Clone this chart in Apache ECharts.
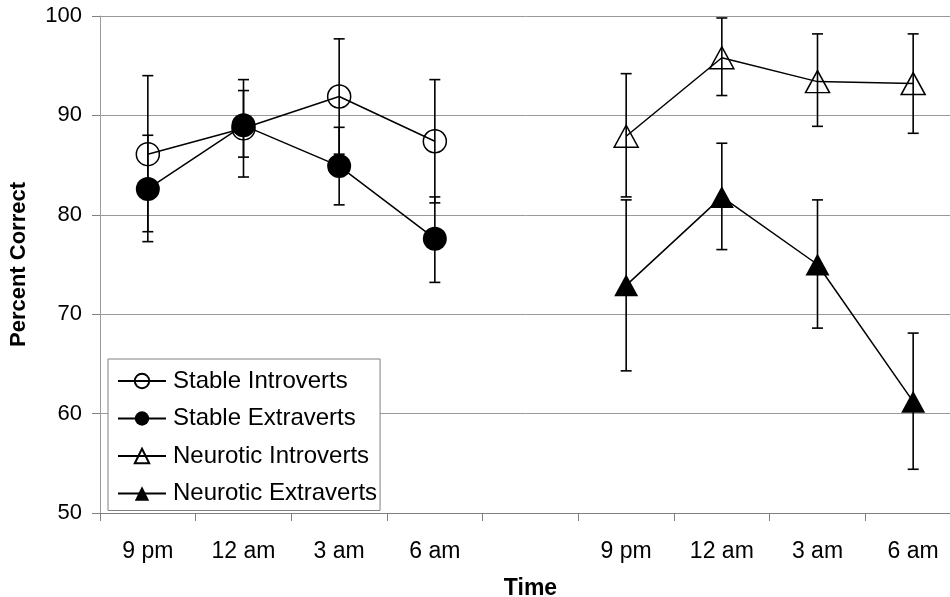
<!DOCTYPE html>
<html>
<head>
<meta charset="utf-8">
<script src="https://cdn.jsdelivr.net/npm/echarts@6/dist/echarts.min.js"></script>
<style>
  html, body { margin: 0; padding: 0; background: #fff; }
  #main { width: 950px; height: 597px; }
</style>
</head>
<body>
<div id="main"></div>
<script>
// categories (an empty slot separates the two groups)
const categories = ['9 pm', '12 am', '3 am', '6 am', '', '9 pm', '12 am', '3 am', '6 am']
const yTicks = [50, 60, 70, 80, 90, 100]

// stable groups sit on slots 0-3, neurotic groups on slots 5-8
const stableIntro = [86.1, 88.7, 91.9, 87.4]
const stableIntroLow = [78.3, 83.8, 86.1, 81.2]
const stableIntroHigh = [94.0, 93.6, 97.7, 93.6]

const stableExtra = [82.6, 89.0, 84.9, 77.6]
const stableExtraLow = [77.3, 85.8, 81.0, 73.2]
const stableExtraHigh = [88.0, 92.5, 88.8, 81.8]

const neuroIntro = [87.9, 95.8, 93.4, 93.2]
const neuroIntroLow = [81.8, 92.0, 88.9, 88.2]
const neuroIntroHigh = [94.2, 99.8, 98.2, 98.2]

const neuroExtra = [72.9, 81.8, 75.0, 61.2]
const neuroExtraLow = [64.3, 76.5, 68.6, 54.4]
const neuroExtraHigh = [81.5, 87.2, 81.5, 68.1]

const FONT = '"Liberation Sans", Arial, sans-serif'

// put 4 values on the 9 slots
function place (vals, start) {
  return categories.map((c, i) => (i >= start && i < start + vals.length) ? vals[i - start] : '-')
}
function bars (low, high, start) {
  return low.map((v, i) => [start + i, v, high[i]])
}

function errorBar (params, api) {
  const x = api.value(0)
  const lo = api.coord([x, api.value(1)])
  const hi = api.coord([x, api.value(2)])
  const w = 5.5
  const st = { stroke: '#000', lineWidth: 1.6 }
  return {
    type: 'group',
    children: [
      { type: 'line', shape: { x1: lo[0], y1: lo[1], x2: hi[0], y2: hi[1] }, style: st },
      { type: 'line', shape: { x1: lo[0] - w, y1: lo[1], x2: lo[0] + w, y2: lo[1] }, style: st },
      { type: 'line', shape: { x1: hi[0] - w, y1: hi[1], x2: hi[0] + w, y2: hi[1] }, style: st }
    ]
  }
}

function errSeries (data) {
  return {
    type: 'custom',
    renderItem: errorBar,
    data: data,
    encode: { x: 0, y: [1, 2] },
    z: 1,
    silent: true
  }
}

function lineSeries (name, data, symbol, size, filled) {
  return {
    name: name,
    type: 'line',
    data: data,
    symbol: symbol,
    symbolSize: size,
    showAllSymbol: true,
    connectNulls: false,
    z: 3,
    lineStyle: { color: '#000', width: 1.5 },
    itemStyle: filled
      ? { color: '#000', borderColor: '#000', borderWidth: 0 }
      : { color: 'rgba(0,0,0,0)', borderColor: '#000', borderWidth: 1.5 },
    emphasis: { disabled: true }
  }
}

const chart = echarts.init(document.getElementById('main'))
chart.setOption({
  animation: false,
  textStyle: { fontFamily: FONT, color: '#000' },
  // plot runs past the right edge of the picture, like the original
  grid: { left: 100, top: 16, width: 861, height: 497, outerBoundsMode: 'none', containLabel: false },
  legend: {
    data: ['Stable Introverts', 'Stable Extraverts', 'Neurotic Introverts', 'Neurotic Extraverts'],
    orient: 'vertical',
    left: 108,
    top: 359,
    padding: [10, 3, 5, 9],
    itemWidth: 48,
    itemHeight: 18,
    itemGap: 13.5,
    borderColor: '#808080',
    borderWidth: 1,
    backgroundColor: '#fff',
    selectedMode: false,
    textStyle: { fontFamily: FONT, fontSize: 24, color: '#000', padding: [0, 0, 0, 2] }
  },
  xAxis: {
    type: 'category',
    data: categories,
    boundaryGap: true,
    name: 'Time',
    nameLocation: 'middle',
    nameGap: 64,
    nameTextStyle: { fontFamily: FONT, fontSize: 23, fontWeight: 'bold', color: '#000' },
    axisLine: { lineStyle: { color: '#808080', width: 1 } },
    axisTick: { show: true, length: 8, inside: false, lineStyle: { color: '#808080' } },
    axisLabel: { interval: 0, margin: 27, fontSize: 23, color: '#000', fontFamily: FONT },
    splitLine: { show: false }
  },
  yAxis: {
    type: 'value',
    min: yTicks[0],
    max: yTicks[yTicks.length - 1],
    interval: 10,
    name: 'Percent Correct',
    nameLocation: 'middle',
    nameGap: 70,
    nameTextStyle: { fontFamily: FONT, fontSize: 22, fontWeight: 'bold', color: '#000' },
    axisLine: { show: true, lineStyle: { color: '#999', width: 1 } },
    axisTick: { show: true, length: 8, lineStyle: { color: '#808080' } },
    axisLabel: { margin: 18, fontSize: 22, color: '#000', fontFamily: FONT },
    splitLine: { show: true, lineStyle: { color: '#999', width: 1 } }
  },
  series: [
    errSeries(bars(stableIntroLow, stableIntroHigh, 0)),
    errSeries(bars(stableExtraLow, stableExtraHigh, 0)),
    errSeries(bars(neuroIntroLow, neuroIntroHigh, 5)),
    errSeries(bars(neuroExtraLow, neuroExtraHigh, 5)),
    lineSeries('Stable Introverts', place(stableIntro, 0), 'circle', 23, false),
    lineSeries('Stable Extraverts', place(stableExtra, 0), 'circle', 24, true),
    lineSeries('Neurotic Introverts', place(neuroIntro, 5), 'triangle', [24, 22], false),
    lineSeries('Neurotic Extraverts', place(neuroExtra, 5), 'triangle', [24, 22], true)
  ]
})
</script>
</body>
</html>
